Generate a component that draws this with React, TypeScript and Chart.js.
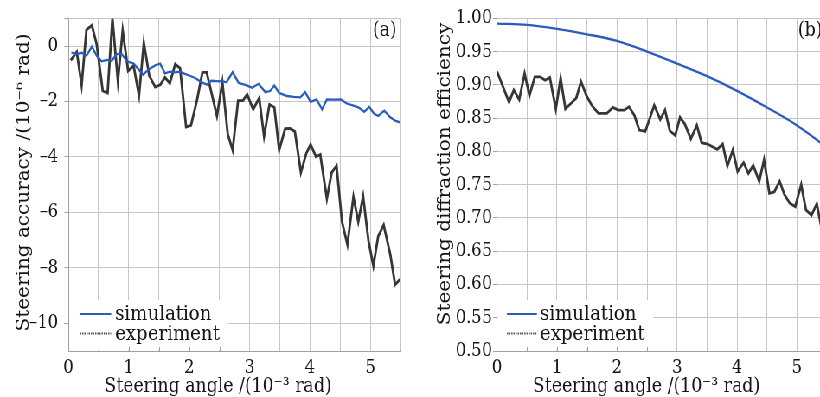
import React, { useEffect, useRef } from 'react';
import { Chart, registerables } from 'chart.js';

Chart.register(...registerables);

// ---------- data ----------
const angleTicks = [0, 1, 2, 3, 4, 5];

const simAccX = [0.05, 0.14, 0.22, 0.30, 0.39, 0.47, 0.55, 0.64, 0.72, 0.80, 0.88, 0.97, 1.08, 1.16, 1.24, 1.32, 1.44, 1.52, 1.60, 1.68, 1.77, 1.85, 1.93, 2.01, 2.10, 2.18, 2.29, 2.37, 2.46, 2.54, 2.62, 2.72, 2.82, 2.93, 3.04, 3.15, 3.26, 3.34, 3.41, 3.49, 3.62, 3.73, 3.84, 3.92, 4.01, 4.11, 4.20, 4.28, 4.39, 4.51, 4.61, 4.72, 4.80, 4.90, 4.98, 5.06, 5.13, 5.23, 5.33, 5.41, 5.49];
const simAccY = [-0.23, -0.29, -0.24, -0.34, -0.02, -0.35, -0.55, -0.50, -0.53, -0.29, -0.27, -0.55, -0.63, -0.83, -1.03, -0.86, -0.69, -0.63, -0.98, -0.92, -0.95, -0.92, -1.00, -1.07, -1.15, -1.27, -1.39, -1.25, -1.26, -1.27, -1.30, -0.94, -1.33, -1.40, -1.50, -1.36, -1.66, -1.62, -1.42, -1.69, -1.80, -1.83, -1.85, -1.66, -2.01, -1.92, -2.28, -1.92, -1.93, -1.92, -2.07, -2.15, -2.21, -2.37, -2.19, -2.43, -2.52, -2.33, -2.57, -2.69, -2.75];

const expAccX = [0.04, 0.14, 0.22, 0.30, 0.39, 0.47, 0.57, 0.65, 0.73, 0.82, 0.90, 0.99, 1.08, 1.17, 1.25, 1.34, 1.44, 1.52, 1.60, 1.68, 1.77, 1.85, 1.95, 2.03, 2.13, 2.22, 2.29, 2.46, 2.55, 2.64, 2.72, 2.81, 2.89, 2.96, 3.06, 3.16, 3.24, 3.33, 3.41, 3.49, 3.59, 3.67, 3.75, 3.85, 3.94, 4.01, 4.10, 4.17, 4.28, 4.36, 4.44, 4.53, 4.62, 4.72, 4.80, 4.88, 4.97, 5.05, 5.13, 5.22, 5.33, 5.41, 5.49];
const expAccY = [-0.51, -0.21, -1.41, 0.59, 0.75, 0.06, -1.62, -1.69, 1.00, -1.26, 0.56, -0.89, -0.71, -1.78, 0.12, -1.07, -1.48, -1.40, -1.13, -1.34, -0.65, -0.80, -2.92, -2.86, -1.95, -0.95, -0.95, -2.52, -1.30, -3.19, -3.75, -1.97, -1.97, -1.74, -2.28, -1.87, -3.25, -2.11, -2.21, -3.75, -2.98, -2.97, -3.08, -4.56, -3.87, -3.55, -3.99, -3.91, -5.50, -4.56, -4.32, -6.33, -7.16, -5.44, -6.33, -5.42, -7.04, -7.93, -6.86, -6.45, -7.52, -8.61, -8.41];

const simEffX = [0, 0.5, 1.0, 1.5, 2.0, 2.5, 3.0, 3.5, 4.0, 4.5, 5.0, 5.5];
const simEffY = [0.992, 0.990, 0.984, 0.976, 0.966, 0.950, 0.932, 0.913, 0.891, 0.866, 0.839, 0.806];

const expEffX = [0.00, 0.20, 0.28, 0.37, 0.46, 0.54, 0.63, 0.72, 0.80, 0.88, 0.98, 1.06, 1.14, 1.23, 1.32, 1.40, 1.49, 1.58, 1.69, 1.83, 1.93, 2.02, 2.12, 2.20, 2.29, 2.37, 2.47, 2.62, 2.72, 2.80, 2.88, 2.97, 3.05, 3.13, 3.23, 3.33, 3.41, 3.51, 3.59, 3.67, 3.76, 3.84, 3.93, 4.01, 4.11, 4.19, 4.27, 4.37, 4.45, 4.54, 4.62, 4.71, 4.79, 4.88, 4.97, 5.07, 5.15, 5.24, 5.33, 5.42];
const expEffY = [0.920, 0.874, 0.892, 0.878, 0.917, 0.884, 0.912, 0.912, 0.907, 0.911, 0.864, 0.910, 0.864, 0.872, 0.880, 0.905, 0.884, 0.869, 0.857, 0.857, 0.866, 0.862, 0.862, 0.867, 0.854, 0.832, 0.830, 0.869, 0.848, 0.862, 0.831, 0.824, 0.851, 0.841, 0.819, 0.839, 0.813, 0.811, 0.807, 0.803, 0.811, 0.778, 0.802, 0.770, 0.783, 0.767, 0.779, 0.755, 0.787, 0.737, 0.739, 0.755, 0.735, 0.722, 0.717, 0.750, 0.712, 0.704, 0.721, 0.680];

const accTicks = [-10, -8, -6, -4, -2, 0, 1];
const effTicks = [0.5, 0.55, 0.6, 0.65, 0.7, 0.75, 0.8, 0.85, 0.9, 0.95, 1.0];
const minorAngleTicks = [0.5, 1, 1.5, 2, 2.5, 3, 3.5, 4, 4.5, 5];

const seriesNames = ['simulation', 'experiment'];

// ---------- style ----------
const SX = 0.865;
const FONT = '"DejaVu Serif", serif';
const BLUE = '#2b5cbf';
const DARK = '#363636';
const GRID = '#c6c6c6';
const BORDER = '#a0a0a0';
const TXT = '#151515';

const zip = (xs: number[], ys: number[]) => {
  const n = Math.min(xs.length, ys.length);
  const out: { x: number; y: number }[] = [];
  for (let i = 0; i < n; i++) out.push({ x: xs[i], y: ys[i] });
  return out;
};

const overlay = (o: any) => ({
  id: 'overlay',
  afterDraw(chart: any) {
    const ctx = chart.ctx as CanvasRenderingContext2D;
    const a = chart.chartArea;
    const xs = chart.scales.x;
    ctx.save();
    // legend box
    ctx.fillStyle = '#ffffff';
    ctx.fillRect(a.left + 1, o.legTop, o.legRight - a.left - 1, a.bottom - o.legTop - 1);
    // small inner tick marks along the bottom axis
    ctx.strokeStyle = BORDER;
    ctx.lineWidth = 1;
    minorAngleTicks.forEach((t) => {
      const px = Math.round(xs.getPixelForValue(t)) + 0.5;
      if (px > o.legRight) return;
      ctx.beginPath();
      ctx.moveTo(px, a.bottom);
      ctx.lineTo(px, a.bottom - 4);
      ctx.stroke();
    });
    // legend lines
    ctx.lineWidth = 2.2;
    ctx.strokeStyle = BLUE;
    ctx.beginPath();
    ctx.moveTo(o.legLineX0, o.legRow1);
    ctx.lineTo(o.legLineX1, o.legRow1);
    ctx.stroke();
    ctx.strokeStyle = '#555';
    ctx.setLineDash([1.5, 1]);
    ctx.beginPath();
    ctx.moveTo(o.legLineX0, o.legRow2);
    ctx.lineTo(o.legLineX1, o.legRow2);
    ctx.stroke();
    ctx.setLineDash([]);
    ctx.fillStyle = TXT;
    ctx.font = `21px ${FONT}`;
    ctx.textAlign = 'left';
    ctx.textBaseline = 'alphabetic';
    ctx.fillText(seriesNames[0], o.legTextX, o.legRow1 + 5.5);
    ctx.fillText(seriesNames[1], o.legTextX, o.legRow2 + 6.5);
    // panel label
    ctx.font = `20px ${FONT}`;
    ctx.textBaseline = 'middle';
    ctx.textAlign = o.panelAlign;
    ctx.fillText(o.panel, o.panelX, o.panelY);
    // x title
    ctx.textAlign = 'center';
    ctx.textBaseline = 'alphabetic';
    ctx.fillText(o.xTitle, o.xTitleX, o.xTitleY);
    // y title
    ctx.translate(o.yTitleX, o.yTitleY);
    ctx.rotate(-Math.PI / 2);
    ctx.fillText(o.yTitle, 0, 0);
    ctx.restore();
  },
});

const buildConfig = (o: any): any => ({
  type: 'line',
  data: {
    datasets: [
      {
        label: seriesNames[0],
        data: zip(o.simX, o.simY),
        borderColor: BLUE,
        borderWidth: 2.3,
        pointRadius: 0,
        tension: o.smooth ? 0.4 : 0,
        cubicInterpolationMode: o.smooth ? 'monotone' : 'default',
      },
      {
        label: seriesNames[1],
        data: zip(o.expX, o.expY),
        borderColor: DARK,
        borderWidth: 2.8,
        pointRadius: 0,
        tension: 0,
      },
    ],
  },
  options: {
    animation: false,
    responsive: false,
    devicePixelRatio: 1,
    layout: { padding: { left: 0, top: o.padTop, right: o.padRight, bottom: 0 } },
    plugins: { legend: { display: false }, tooltip: { enabled: false } },
    scales: {
      x: {
        type: 'linear',
        min: 0,
        max: 5.5,
        afterFit: (s: any) => {
          s.height = 46;
        },
        ticks: {
          stepSize: 0.5,
          autoSkip: false,
          maxRotation: 0,
          padding: 6,
          color: TXT,
          font: { family: FONT, size: 19 },
          callback: (v: number) => {
            const r = Math.round(v);
            return Math.abs(v - r) < 1e-6 && angleTicks.includes(r) ? String(r) : '';
          },
        },
        grid: { color: GRID, lineWidth: 1, drawTicks: false },
        border: { color: BORDER, width: 1 },
      },
      y: {
        type: 'linear',
        min: o.yMin,
        max: o.yMax,
        afterFit: (s: any) => {
          s.width = o.yWidth;
        },
        afterBuildTicks: (s: any) => {
          s.ticks = o.yTicks.map((v: number) => ({ value: v }));
        },
        ticks: {
          autoSkip: false,
          padding: o.yPad,
          color: TXT,
          font: { family: FONT, size: 19 },
          callback: o.yLabel,
        },
        grid: { color: GRID, lineWidth: 1, drawTicks: true, tickLength: 4.6, tickColor: BORDER },
        border: { color: BORDER, width: 1 },
      },
    },
  },
  plugins: [overlay(o)],
});

const leftOpts = {
  simX: simAccX,
  simY: simAccY,
  expX: expAccX,
  expY: expAccY,
  smooth: false,
  padTop: 15,
  padRight: 16.9,
  yWidth: 79,
  yPad: 7,
  yMin: -11,
  yMax: 1,
  yTicks: accTicks,
  yLabel: (v: number) => (v === 1 ? '' : v < 0 ? '\u2013' + Math.abs(v) : String(v)),
  legTop: 300,
  legRight: 263.6,
  legLineX0: 92.5,
  legLineX1: 128.5,
  legTextX: 133,
  legRow1: 314,
  legRow2: 333.5,
  panel: '(a)',
  panelAlign: 'right',
  panelX: 458.6,
  panelY: 31,
  xTitle: 'Steering angle /(10\u207B\u00B3 rad)',
  xTitleX: 252,
  xTitleY: 391.5,
  yTitle: 'Steering accuracy /(10\u207B\u2076 rad)',
  yTitleX: 32.7,
  yTitleY: 182.5,
};

const rightOpts = {
  simX: simEffX,
  simY: simEffY,
  expX: expEffX,
  expY: expEffY,
  smooth: true,
  padTop: 18.3,
  padRight: 13.9,
  yWidth: 94.6,
  yPad: 1,
  yMin: 0.5,
  yMax: 1.0,
  yTicks: effTicks,
  yLabel: (v: number) => v.toFixed(2),
  legTop: 300,
  legRight: 274.9,
  legLineX0: 106.1,
  legLineX1: 140.8,
  legTextX: 144.3,
  legRow1: 314,
  legRow2: 333.5,
  panel: '(b)',
  panelAlign: 'left',
  panelX: 442.5,
  panelY: 31,
  xTitle: 'Steering angle /(10\u207B\u00B3 rad)',
  xTitleX: 267.4,
  xTitleY: 391.5,
  yTitle: 'Steering diffraction efficiency',
  yTitleX: 40.2,
  yTitleY: 174,
};

export default function App() {
  const leftRef = useRef<HTMLCanvasElement>(null);
  const rightRef = useRef<HTMLCanvasElement>(null);

  useEffect(() => {
    const c1 = new Chart(leftRef.current as HTMLCanvasElement, buildConfig(leftOpts));
    const c2 = new Chart(rightRef.current as HTMLCanvasElement, buildConfig(rightOpts));
    return () => {
      c1.destroy();
      c2.destroy();
    };
  }, []);

  return (
    <div
      style={{
        position: 'fixed',
        left: 0,
        top: 0,
        width: 820,
        height: 397,
        overflow: 'hidden',
        background: '#ffffff',
      }}
    >
      <div
        style={{
          position: 'absolute',
          left: 0,
          top: 0,
          width: 970,
          height: 397,
          transform: `scaleX(${SX})`,
          transformOrigin: '0 0',
        }}
      >
        <canvas
          ref={leftRef}
          width={480}
          height={397}
          style={{ position: 'absolute', left: 0, top: 0, width: 480, height: 397 }}
        />
        <canvas
          ref={rightRef}
          width={490}
          height={397}
          style={{ position: 'absolute', left: 480, top: 0, width: 490, height: 397 }}
        />
      </div>
    </div>
  );
}
